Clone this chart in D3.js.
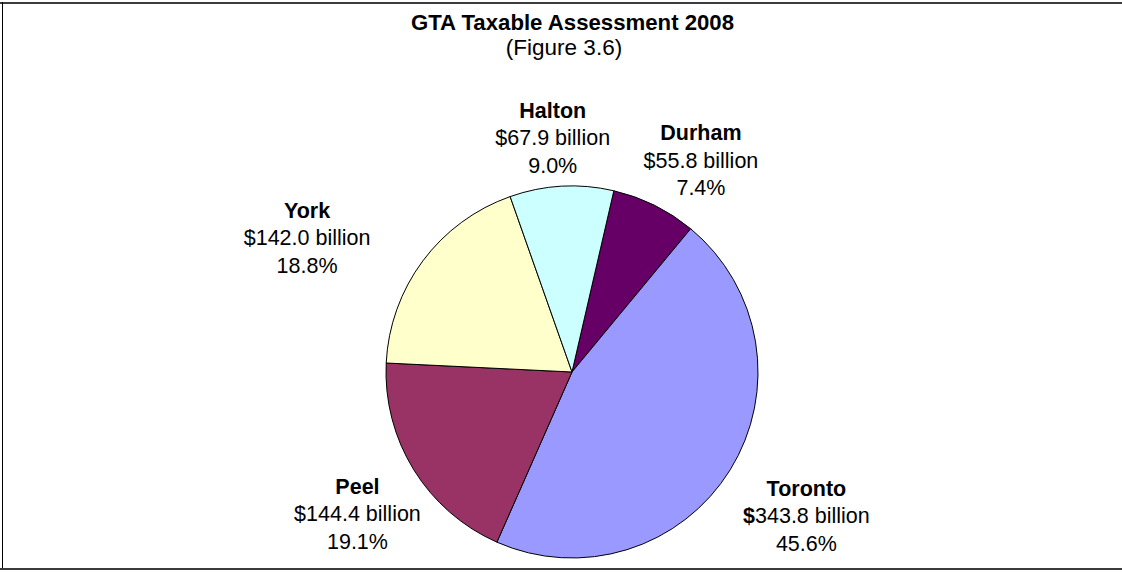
<!DOCTYPE html>
<html>
<head>
<meta charset="utf-8">
<script src="https://cdn.jsdelivr.net/npm/d3@7"></script>
<style>
  html, body { margin: 0; padding: 0; background: #fff; }
  svg { display: block; font-family: "Liberation Sans", Arial, sans-serif; }
</style>
</head>
<body>
<svg id="chart" width="1122" height="572"></svg>
<script>
// Regions of the Greater Toronto Area, in drawing order (clockwise from the top)
const regions = ["Durham", "Toronto", "Peel", "York", "Halton"];
// Taxable assessment, $ billions
const assessment = [55.8, 343.8, 144.4, 142.0, 67.9];
// Share of the GTA total, as printed
const shareLabels = ["7.4%", "45.6%", "19.1%", "18.8%", "9.0%"];
// Slice fills
const fills = ["#660066", "#9999FF", "#993366", "#FFFFCC", "#CCFFFF"];

const titleText = "GTA Taxable Assessment 2008";
const subtitleText = "(Figure 3.6)";

const W = 1122, H = 572;
const svg = d3.select("#chart");

// Frame: top, left and bottom rules
svg.append("rect").attr("x", 0).attr("y", 2).attr("width", W).attr("height", 2).attr("fill", "#3c3c3c");
svg.append("rect").attr("x", 2).attr("y", 2).attr("width", 1).attr("height", 567).attr("fill", "#000");
svg.append("rect").attr("x", 0).attr("y", 568).attr("width", W).attr("height", 2).attr("fill", "#3c3c3c");

// Title block
svg.append("text").attr("x", 572.5).attr("y", 30)
  .attr("text-anchor", "middle").attr("font-size", 22.2).attr("font-weight", "bold")
  .attr("fill", "#000").text(titleText);
svg.append("text").attr("x", 564).attr("y", 55)
  .attr("text-anchor", "middle").attr("font-size", 22.5)
  .attr("fill", "#000").text(subtitleText);

// Pie geometry
const cx = 572, cy = 372, R = 186;
const startDeg = 13;
const rad = d => d * Math.PI / 180;

const pie = d3.pie().sort(null)
  .startAngle(rad(startDeg)).endAngle(rad(startDeg + 360))
  .value(d => d.value);

const rows = regions.map((name, i) => ({
  name, value: assessment[i], share: shareLabels[i], fill: fills[i], i
}));
const arcs = pie(rows);
const arc = d3.arc().innerRadius(0).outerRadius(R);

const g = svg.append("g").attr("transform", `translate(${cx},${cy})`);
g.selectAll("path.slice").data(arcs).enter().append("path")
  .attr("class", "slice")
  .attr("d", arc)
  .attr("fill", d => d.data.fill)
  .attr("stroke", "#000")
  .attr("stroke-width", 1)
  .attr("stroke-linejoin", "round");

// Label placement: angular nudge from the slice's mid-angle (deg) and distance from centre
const labelNudge = {
  Durham:  { dAng: 5.0,  r: 248 },
  Toronto: { dAng: -0.2, r: 275 },
  Peel:    { dAng: -1.7, r: 257 },
  York:    { dAng: -9.8, r: 297 },
  Halton:  { dAng: -1.5, r: 235 }
};

const lineGap = 27.5;
const fmt = d3.format(".1f");

const labels = g.selectAll("g.label").data(arcs).enter().append("g")
  .attr("class", "label")
  .attr("transform", d => {
    const n = labelNudge[d.data.name];
    const a = (d.startAngle + d.endAngle) / 2 + rad(n.dAng);
    const x = Math.sin(a) * n.r;
    const y = -Math.cos(a) * n.r;
    return `translate(${x},${y})`;
  });

labels.each(function(d) {
  const sel = d3.select(this);
  const t = sel.append("text").attr("text-anchor", "middle")
    .attr("font-size", 21.5).attr("fill", "#000");
  // region name
  t.append("tspan").attr("x", 0).attr("y", 7.5 - lineGap)
    .attr("font-weight", "bold").text(d.data.name);
  // value line
  const v = t.append("tspan").attr("x", 0).attr("y", 7.5);
  v.append("tspan").attr("font-weight", d.data.name === "Toronto" ? "bold" : "normal").text("$");
  v.append("tspan").text(fmt(d.data.value) + " billion");
  // share line
  t.append("tspan").attr("x", 0).attr("y", 7.5 + lineGap).text(d.data.share);
});
</script>
</body>
</html>
